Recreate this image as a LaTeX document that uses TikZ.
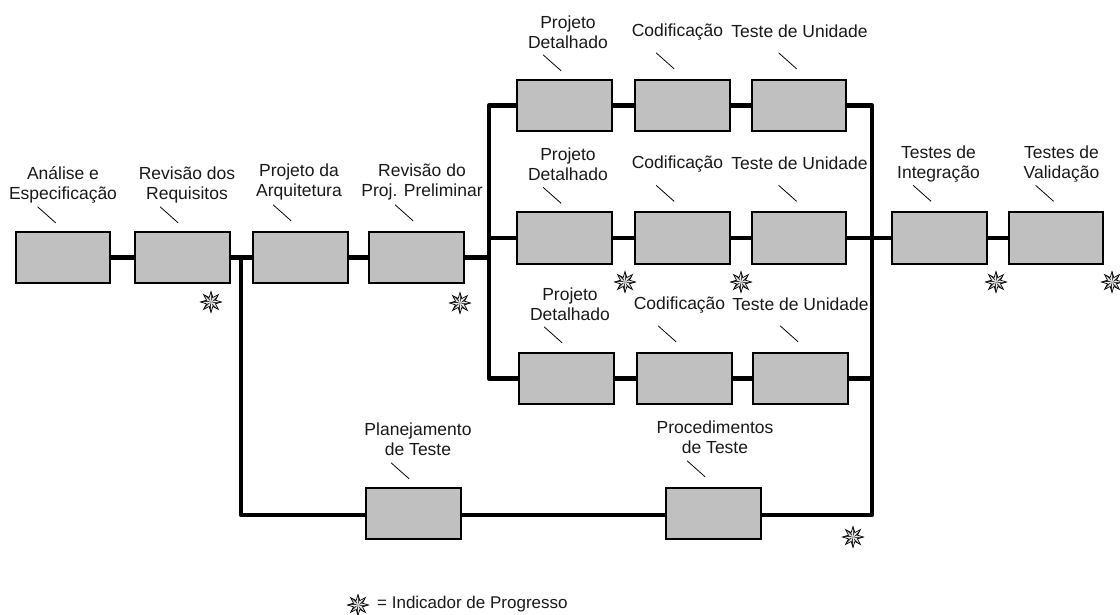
\documentclass[tikz,border=0pt]{standalone}
\usepackage{fontspec}
\usetikzlibrary{backgrounds}
\setmainfont{Liberation Sans}
\definecolor{boxgray}{HTML}{C0C0C0}
\tikzset{
  x=1pt,y=-1pt,
  box/.style={draw=black,line width=2.1pt,fill=boxgray,minimum width=94.5pt,minimum height=51.5pt,inner sep=0pt,outer sep=0pt},
  lbl/.style={font=\fontsize{17.5}{20.3}\selectfont,align=center,inner sep=0pt,text=black!90},
  wire/.style={line width=4.5pt,black,line join=round},
  lead/.style={line width=.8pt,black},
  pics/progstar/.style={code={
    \foreach \a in {0,45,...,315}{
      \fill[black!80] (0,0) -- (\a:10.5) -- (\a+22.5:4.8) -- cycle;
      \fill[black!8] (0,0) -- (\a:10.5) -- (\a-22.5:4.8) -- cycle;
      \draw[black,line width=.7pt,line join=miter] (\a-22.5:4.8) -- (\a:10.5) -- (\a+22.5:4.8);
    }
  }}
}
% #1 = horizontal offset from the box's left edge, #2 = rise above its top edge, #3 = box
\newcommand{\leadline}[3]{%
  \coordinate (#3-la) at ([shift={(#1,-#2)}]#3.north west);
  \coordinate (#3-lb) at ([shift={(#1+18,-#2+16)}]#3.north west);
  \draw[lead] (#3-la) -- (#3-lb);}
\begin{document}
\begin{tikzpicture}
\useasboundingbox (0,0) rectangle (1120,614);
% boxes
\node[box] (a) at (62.8,257.5) {};
\node[box] (b) at (182.3,257.5) {};
\node[box] (c) at (300.3,257.5) {};
\node[box] (d) at (416.3,257.5) {};
\node[box] (p1) at (564.3,105.5) {};
\node[box] (c1) at (682.3,105.5) {};
\node[box] (t1) at (798.8,105.5) {};
\node[box] (p2) at (564.3,238) {};
\node[box] (c2) at (682.3,238) {};
\node[box] (t2) at (798.8,238) {};
\node[box] (p3) at (566.3,378.5) {};
\node[box] (c3) at (684.3,378.5) {};
\node[box] (t3) at (800.3,378.5) {};
\node[box] (i) at (939.3,238) {};
\node[box] (v) at (1055.8,238) {};
\node[box] (pl) at (413.3,513.5) {};
\node[box] (pr) at (713.3,513.5) {};
% junctions
\coordinate (jb) at (241,257.5);
\coordinate (jbot) at (241,515);
\coordinate (jd) at (489,257.5);
\coordinate (jtop) at (489,105.5);
\coordinate (jmid) at (489,238);
\coordinate (jlow) at (489,378.5);
\coordinate (rtop) at (872,105.5);
\coordinate (rmid) at (872,238);
\coordinate (rlow) at (872,378.5);
\coordinate (rbot) at (872,515);
% wires, behind the boxes
\begin{scope}[on background layer]
\draw[wire] (a) -- (b);
\draw[wire] (b) -- (c);
\draw[wire] (c) -- (d);
\draw[wire] (d) -- (jd);
\draw[wire] (p1) -- (jtop) -- (jlow) -- (p3);
\draw[wire] (jmid) -- (p2);
\draw[wire] (p1) -- (c1);
\draw[wire] (c1) -- (t1);
\draw[wire] (p2) -- (c2);
\draw[wire] (c2) -- (t2);
\draw[wire] (p3) -- (c3);
\draw[wire] (c3) -- (t3);
\draw[wire] (t2) -- (i);
\draw[wire] (i) -- (v);
\draw[wire] (t3) -- (rlow);
\draw[wire] (t1) -- (rtop) -- (rbot) -- (pr.center |- rbot);
\draw[wire] (jb) -- (jbot) -- (pr.center |- jbot);
\end{scope}
% labels
\node[lbl] (la) at (63,185) {Análise e\\Especificação};
\node[lbl] (lb) at (187,185) {Revisão dos\\Requisitos};
\node[lbl] (lc) at (299,182) {Projeto da\\Arquitetura};
\node[lbl] (ld) at (422,182) {Revisão do\\Proj. Preliminar};
\node[lbl] (lp1) at (568,32) {Projeto\\Detalhado};
\node[lbl] (lc1) at (677.5,32.5) {Codificação};
\node[lbl] (lt1) at (799.5,31) {Teste de Unidade};
\node[lbl] (lp2) at (568,164) {Projeto\\Detalhado};
\node[lbl] (lc2) at (677.5,164.5) {Codificação};
\node[lbl] (lt2) at (799.5,163) {Teste de Unidade};
\node[lbl] (lp3) at (570,304) {Projeto\\Detalhado};
\node[lbl] (lc3) at (679.5,305.5) {Codificação};
\node[lbl] (lt3) at (800.5,304) {Teste de Unidade};
\node[lbl] (li) at (938.5,164) {Testes de\\Integração};
\node[lbl] (lv) at (1061.5,164) {Testes de\\Validação};
\node[lbl] (lpl) at (418,439) {Planejamento\\de Teste};
\node[lbl] (lpr) at (715,437) {Procedimentos\\de Teste};
\node[lbl,anchor=west,font=\fontsize{17}{20}\selectfont] (leg) at (377,604) {= Indicador de Progresso};
% leaders
\leadline{22}{25}{a}\leadline{25}{25}{b}\leadline{20}{27}{c}\leadline{26}{27}{d}
\leadline{26}{25}{p1}\leadline{21}{27}{c1}\leadline{27}{27}{t1}
\leadline{26}{25}{p2}\leadline{21}{27}{c2}\leadline{27}{27}{t2}
\leadline{25}{26}{p3}\leadline{21}{27}{c3}\leadline{27}{27}{t3}
\leadline{21}{27}{i}\leadline{27}{27}{v}\leadline{25}{25}{pl}\leadline{21}{27}{pr}
% stars
\foreach \x/\y in {211/302,460/303,625/282,741/282,996/282,1112/282,853/537,358/605}
  \pic at (\x,\y) {progstar};
\end{tikzpicture}
\end{document}
